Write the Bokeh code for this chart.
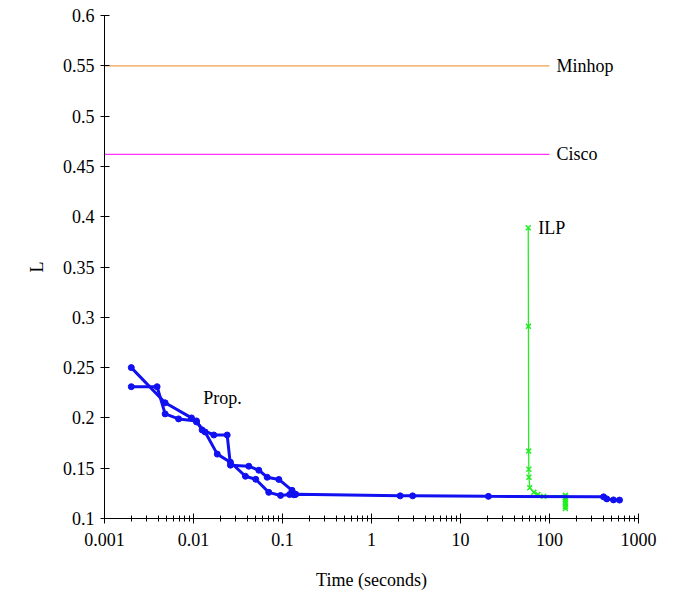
from bokeh.plotting import figure
from bokeh.models import Range1d, FixedTicker, LogAxis, LinearAxis, LogScale
from bokeh.core.properties import value
from bokeh.embed import file_html
from bokeh.resources import INLINE

# ---- data ----
minhop_L = 0.55
cisco_L = 0.462
baseline_x = [0.001, 100]

prop_run1_x = [0.002, 0.0048, 0.0095, 0.0108, 0.0135, 0.0185, 0.026, 0.0383, 0.05, 0.0701, 0.095, 0.12, 0.14,
               2.1, 2.9, 20.6, 405, 440, 523, 612]
prop_run1_y = [0.250, 0.215, 0.200, 0.196, 0.186, 0.164, 0.156, 0.142, 0.139, 0.126, 0.1229, 0.1238, 0.124,
               0.1225, 0.1225, 0.122, 0.1215, 0.1195, 0.1185, 0.1183]

prop_run2_x = [0.002, 0.0039, 0.0048, 0.0068, 0.0108, 0.0125, 0.0169, 0.0239, 0.026, 0.0418, 0.0542, 0.0673,
               0.091, 0.128, 0.134, 0.14]
prop_run2_y = [0.231, 0.231, 0.204, 0.199, 0.197, 0.188, 0.183, 0.183, 0.153, 0.152, 0.148, 0.141,
               0.1388, 0.128, 0.1236, 0.124]

ilp_x = [57.7, 58.0, 58.3, 58.6, 58.8, 60.0, 66.7, 74.0, 86.0, 151, 151, 151, 151, 151, 151, 151]
ilp_y = [0.389, 0.291, 0.167, 0.149, 0.141, 0.1305, 0.126, 0.1238, 0.122, 0.123, 0.121, 0.119, 0.117,
         0.115, 0.112, 0.110]

y_ticks = [0.1, 0.15, 0.2, 0.25, 0.3, 0.35, 0.4, 0.45, 0.5, 0.55, 0.6]
y_labels = ["0.1", "0.15", "0.2", "0.25", "0.3", "0.35", "0.4", "0.45", "0.5", "0.55", "0.6"]
x_ticks = [0.001, 0.01, 0.1, 1, 10, 100, 1000]
x_labels = ["0.001", "0.01", "0.1", "1", "10", "100", "1000"]

FONT = "Liberation Serif"

p = figure(width=675, height=594, x_axis_type=None, y_axis_type=None,
           x_range=Range1d(0.001, 1000), y_range=Range1d(0.1, 0.6),
           output_backend="svg", toolbar_location=None,
           min_border_left=104, min_border_right=37, min_border_top=15, min_border_bottom=76)
p.x_scale = LogScale()
p.outline_line_color = None
p.xgrid.visible = False
p.ygrid.visible = False

# axes
minor = [m * d for d in [0.001, 0.01, 0.1, 1, 10, 100] for m in range(2, 10)]
xaxis = LogAxis(ticker=FixedTicker(ticks=x_ticks, minor_ticks=minor))
xaxis.major_label_overrides = {t: l for t, l in zip(x_ticks, x_labels)}
xaxis.axis_label = "Time (seconds)"
yaxis = LinearAxis(ticker=FixedTicker(ticks=y_ticks))
yaxis.major_label_overrides = {t: l for t, l in zip(y_ticks, y_labels)}
yaxis.axis_label = "L"
for ax in (xaxis, yaxis):
    ax.axis_line_color = "black"
    ax.major_tick_line_color = "black"
    ax.minor_tick_line_color = "black"
    ax.major_label_text_font = FONT
    ax.major_label_text_font_size = "18px"
    ax.major_label_text_color = "black"
    ax.axis_label_text_font = FONT
    ax.axis_label_text_font_size = "18px"
    ax.axis_label_text_font_style = "normal"
    ax.axis_label_text_color = "black"
xaxis.major_tick_in = 5
xaxis.major_tick_out = 5
xaxis.minor_tick_in = 3
xaxis.minor_tick_out = 3
xaxis.major_label_standoff = 9
xaxis.axis_label_standoff = 21
yaxis.major_tick_in = 5
yaxis.major_tick_out = 4
yaxis.minor_tick_out = 0
yaxis.minor_tick_in = 0
yaxis.major_label_standoff = 6
yaxis.axis_label_standoff = 13
p.add_layout(xaxis, "below")
p.add_layout(yaxis, "left")

# reference lines
p.line(baseline_x, [minhop_L, minhop_L], line_color="#f0a050", line_width=1.3)
p.line(baseline_x, [cisco_L, cisco_L], line_color="#ff33ff", line_width=1.3)

# ILP
p.line(ilp_x, ilp_y, line_color="#22ee22", line_width=1.3)
p.scatter(ilp_x, ilp_y, marker="x", size=7, line_color="#22ee22", line_width=1.5)

# Prop
BLUE = "#1010f0"
for xs, ys in ((prop_run1_x, prop_run1_y), (prop_run2_x, prop_run2_y)):
    p.line(xs, ys, line_color=BLUE, line_width=3)
    p.scatter(xs, ys, marker="circle", size=6, fill_color=BLUE, line_color=BLUE)

# labels
p.text(x=[100], y=[minhop_L], text=["Minhop"], x_offset=7, text_baseline="middle",
       text_font=value(FONT), text_font_size="18px", text_color="black")
p.text(x=[100], y=[cisco_L], text=["Cisco"], x_offset=7, text_baseline="middle",
       text_font=value(FONT), text_font_size="18px", text_color="black")
p.text(x=[ilp_x[0]], y=[ilp_y[0]], text=["ILP"], x_offset=10, text_baseline="middle",
       text_font=value(FONT), text_font_size="18px", text_color="black")
p.text(x=[0.0129], y=[0.220], text=["Prop."], text_baseline="middle",
       text_font=value(FONT), text_font_size="18px", text_color="black")

open("out.html", "w").write(file_html(p, INLINE))
